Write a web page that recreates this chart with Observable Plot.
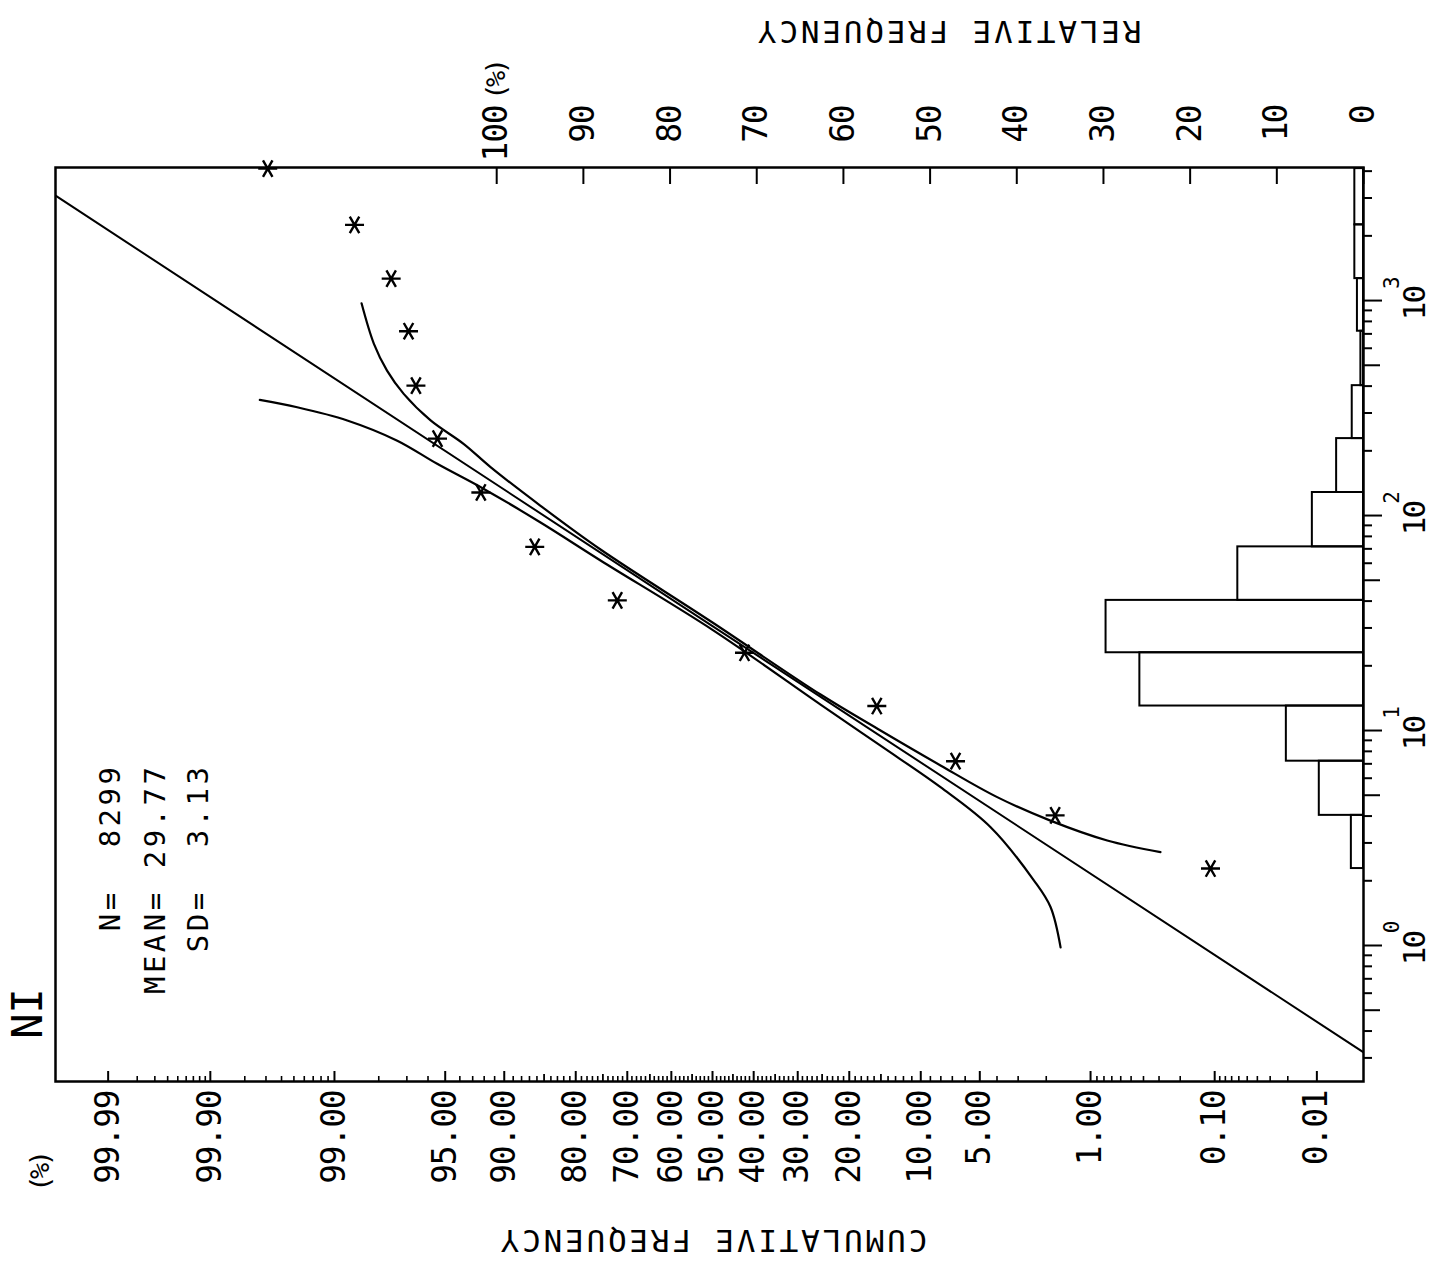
<!DOCTYPE html>
<html><head><meta charset="utf-8">
<script src="https://cdn.jsdelivr.net/npm/d3@7"></script>
<script src="https://cdn.jsdelivr.net/npm/@observablehq/plot@0.6"></script>
<style>
html,body{margin:0;padding:0;background:#fff;}
#chart{position:relative;width:1435px;height:1269px;overflow:hidden;background:#fff;}
#chart svg{position:absolute;left:0;top:0;}
</style></head>
<body><div id="chart"></div>
<script>
// ---------------- data ----------------
const title = "NI";
const statsLines = ["N=  8299", "MEAN= 29.77", "SD=  3.13"];
const cumAxisTitle = "CUMULATIVE FREQUENCY";
const relAxisTitle = "RELATIVE FREQUENCY";
const pctLabel = "(%)";

// class edges (upper edges are where the asterisks sit)
const binEdges = [2.28, 4.03, 7.2, 13.0, 23.0, 40.3, 71.5, 128, 228, 402, 720, 1265, 2250, 4110];
// relative frequency (%) of each class between consecutive edges
const relFreq = [1.4, 5.1, 8.9, 25.8, 29.7, 14.5, 5.9, 3.1, 1.3, 0.3, 0.7, 1.0, 1.0];
// cumulative frequency (%) at each upper edge
const cumFreq = [0.109, 1.75, 6.74, 15.6, 42.2, 72.1, 86.3, 92.3, 95.47, 96.6, 96.93, 97.6, 98.62, 99.69];

// fitted log-normal line
const fitCum = [0.001, 50, 99.999];
const fitValue = [0.237, 30.6, 3963];
// confidence curves
const upperCum = [98.46, 98.14, 97.74, 97.13, 95.86, 93.70, 91.40, 85.5, 75.46, 50, 25.3, 15.06, 8.03, 3.99, 1.88, 0.757, 0.292];
const upperValue = [971, 629, 472, 368, 277, 215, 168, 111, 69.5, 31.8, 14.7, 10.0, 6.88, 4.90, 3.81, 3.08, 2.72];
const lowerCum = [99.733, 99.47, 98.77, 97.38, 95.49, 92.03, 85.5, 75.46, 50, 25.3, 15.06, 8.03, 4.35, 2.40, 1.876, 1.61];
const lowerValue = [345, 319, 277, 223, 174, 133, 92.8, 61.8, 29.4, 13.2, 8.5, 5.45, 3.55, 2.01, 1.51, 0.98];

// cumulative-frequency axis
const cumTicks = [0.01, 0.1, 1, 5, 10, 20, 30, 40, 50, 60, 70, 80, 90, 95, 99, 99.9, 99.99];
const cumTickLabels = ["0.01", "0.10", "1.00", "5.00", "10.00", "20.00", "30.00", "40.00", "50.00", "60.00", "70.00", "80.00", "90.00", "95.00", "99.00", "99.90", "99.99"];
const cumMidTicks = [15, 25, 35, 45, 55, 65, 75, 85];
const cumMinorTicks = [
  0.02, 0.03, 0.04, 0.05, 0.06, 0.07, 0.08, 0.09,
  0.2, 0.3, 0.4, 0.5, 0.6, 0.7, 0.8, 0.9,
  2, 3, 4, 6, 7, 8, 9, 11, 12, 13, 14, 16, 17, 18, 19,
  21, 22, 23, 24, 26, 27, 28, 29, 31, 32, 33, 34, 36, 37, 38, 39,
  41, 42, 43, 44, 46, 47, 48, 49, 51, 52, 53, 54, 56, 57, 58, 59,
  61, 62, 63, 64, 66, 67, 68, 69, 71, 72, 73, 74, 76, 77, 78, 79,
  81, 82, 83, 84, 86, 87, 88, 89, 91, 92, 93, 94, 96, 97, 98,
  99.1, 99.2, 99.3, 99.4, 99.5, 99.6, 99.7, 99.8,
  99.91, 99.92, 99.93, 99.94, 99.95, 99.96, 99.97, 99.98
];

// relative-frequency axis
const relTicks = [0, 10, 20, 30, 40, 50, 60, 70, 80, 90, 100];
const relTickLabels = ["0", "10", "20", "30", "40", "50", "60", "70", "80", "90", "100"];

// log value axis
const logMajor = [1, 10, 100, 1000];
const logBase = ["10", "10", "10", "10"];
const logExp = ["0", "1", "2", "3"];
const logMid = [0.5, 5, 50, 500];
const logMinor = [0.3, 0.4, 0.6, 0.7, 0.8, 0.9, 2, 3, 4, 6, 7, 8, 9, 20, 30, 40, 60, 70, 80, 90,
  200, 300, 400, 600, 700, 800, 900, 2000, 3000, 4000];

// ---------------- layout ----------------
const W = 1435, H = 1269;
const mL = 55, mR = 72, mT = 167, mB = 188;
const FW = W - mL - mR, FH = H - mT - mB;
const yDomain = [0.233, 4159];
const zDomain = [4.043, -4.006];
const relDomain = [150.9, 0];
const FONT = "DejaVu Sans Mono";
const T = {fontFamily: FONT, fill: "black", lineAnchor: "middle"};

// inverse normal CDF (probability-paper scale)
function probit(p) {
  const a = [-3.969683028665376e+01, 2.209460984245205e+02, -2.759285104469687e+02, 1.383577518672690e+02, -3.066479806614716e+01, 2.506628277459239e+00];
  const b = [-5.447609879822406e+01, 1.615858368580409e+02, -1.556989798598866e+02, 6.680131188771972e+01, -1.328068155288572e+01];
  const c = [-7.784894002430293e-03, -3.223964580411365e-01, -2.400758277161838e+00, -2.549732539343734e+00, 4.374664141464968e+00, 2.938163982698783e+00];
  const d = [7.784695709041462e-03, 3.224671290700398e-01, 2.445134137142996e+00, 3.754408661907416e+00];
  const pl = 0.02425, ph = 1 - pl;
  let q, r;
  if (p < pl) {
    q = Math.sqrt(-2 * Math.log(p));
    return (((((c[0]*q+c[1])*q+c[2])*q+c[3])*q+c[4])*q+c[5]) / ((((d[0]*q+d[1])*q+d[2])*q+d[3])*q+1);
  }
  if (p <= ph) {
    q = p - 0.5; r = q * q;
    return (((((a[0]*r+a[1])*r+a[2])*r+a[3])*r+a[4])*r+a[5])*q / (((((b[0]*r+b[1])*r+b[2])*r+b[3])*r+b[4])*r+1);
  }
  q = Math.sqrt(-2 * Math.log(1 - p));
  return -(((((c[0]*q+c[1])*q+c[2])*q+c[3])*q+c[4])*q+c[5]) / ((((d[0]*q+d[1])*q+d[2])*q+d[3])*q+1);
}

const stars = cumFreq.map((c, i) => ({c, v: binEdges[i]}));
const fitLine = fitCum.map((c, i) => ({c, v: fitValue[i]}));
const upper = upperCum.map((c, i) => ({c, v: upperValue[i]}));
const lower = lowerCum.map((c, i) => ({c, v: lowerValue[i]}));
const bins = relFreq.map((f, i) => ({f, lo: binEdges[i], hi: binEdges[i + 1]}));

const statDx = [55, 100, 143];

// ---------------- main probability plot ----------------
const main = Plot.plot({
  width: W, height: H,
  marginLeft: mL, marginRight: mR, marginTop: mT, marginBottom: mB,
  style: {background: "transparent", fontFamily: FONT, color: "black"},
  x: {type: "linear", transform: (p) => probit(p / 100), domain: zDomain, axis: null},
  y: {type: "log", domain: yDomain, axis: null},
  marks: [
    // bottom (cumulative) ticks, inward
    Plot.ruleX(cumMinorTicks, {x: d => d, insetTop: FH - 5, stroke: "black", strokeWidth: 1.6}),
    Plot.ruleX(cumMidTicks, {x: d => d, insetTop: FH - 7, stroke: "black", strokeWidth: 1.8}),
    Plot.ruleX(cumTicks, {x: d => d, insetTop: FH - 10, stroke: "black", strokeWidth: 2}),
    Plot.text(cumTicks, {...T, x: d => d, text: (d, i) => cumTickLabels[i], frameAnchor: "bottom", dy: 9,
      rotate: -90, textAnchor: "end", fontSize: 33, className: "tick-label"}),
    Plot.text([pctLabel], {...T, frameAnchor: "bottom-left", dx: -15, dy: 72, rotate: -90, textAnchor: "end",
      fontSize: 27}),
    Plot.text([cumAxisTitle], {...T, x: 50, frameAnchor: "bottom", dy: 158, rotate: 180, textAnchor: "middle",
      fontSize: 31}),
    // right (log) ticks, outward
    Plot.ruleY(logMinor, {y: d => d, insetLeft: FW, insetRight: -9, stroke: "black", strokeWidth: 2}),
    Plot.ruleY(logMid, {y: d => d, insetLeft: FW, insetRight: -17, stroke: "black", strokeWidth: 2}),
    Plot.ruleY(logMajor, {y: d => d, insetLeft: FW, insetRight: -19, stroke: "black", strokeWidth: 2}),
    Plot.text(logMajor, {...T, y: d => d, text: (d, i) => logBase[i], frameAnchor: "right", dx: 52, dy: 3,
      rotate: -90, textAnchor: "middle", fontSize: 31}),
    Plot.text(logMajor, {...T, y: d => d, text: (d, i) => logExp[i], frameAnchor: "right", dx: 29, dy: -18,
      rotate: -90, textAnchor: "middle", fontSize: 21}),
    // fitted line and confidence curves
    Plot.line(fitLine, {x: "c", y: "v", stroke: "black", strokeWidth: 2, clip: true}),
    Plot.line(upper, {x: "c", y: "v", stroke: "black", strokeWidth: 2.2, curve: "catmull-rom", clip: true}),
    Plot.line(lower, {x: "c", y: "v", stroke: "black", strokeWidth: 2.2, curve: "catmull-rom", clip: true}),
    // observed cumulative frequencies
    Plot.dot(stars, {x: "c", y: "v", symbol: "asterisk", r: 9, stroke: "black", strokeWidth: 2.4, rotate: 90}),
    // annotations
    Plot.text([title], {...T, frameAnchor: "bottom-left", dx: -27, dy: -68, rotate: -90, textAnchor: "middle",
      fontSize: 42}),
    ...statsLines.map((s, i) => Plot.text([s], {...T, frameAnchor: "top-left", dx: statDx[i], dy: 596,
      rotate: -90, textAnchor: "end", fontSize: 29})),
    Plot.frame({stroke: "black", strokeWidth: 2.5})
  ]
});

// ---------------- histogram overlay (relative frequency) ----------------
const hist = Plot.plot({
  width: W, height: H,
  marginLeft: mL, marginRight: mR, marginTop: mT, marginBottom: mB,
  style: {background: "transparent", fontFamily: FONT, color: "black"},
  x: {type: "linear", domain: relDomain, axis: null},
  y: {type: "log", domain: yDomain, axis: null},
  marks: [
    Plot.rect(bins, {x1: 0, x2: "f", y1: "lo", y2: "hi", fill: "none", stroke: "black", strokeWidth: 2}),
    Plot.ruleX(relTicks, {x: d => d, insetBottom: FH - 17, stroke: "black", strokeWidth: 2}),
    Plot.text(relTicks, {...T, x: d => d, text: (d, i) => relTickLabels[i], frameAnchor: "top", dy: -62,
      rotate: -90, textAnchor: "end", fontSize: 33}),
    Plot.text([pctLabel], {...T, x: 100, frameAnchor: "top", dy: -106, rotate: -90, textAnchor: "end",
      fontSize: 27}),
    Plot.text([relAxisTitle], {...T, x: 47.9, frameAnchor: "top", dy: -137, rotate: 180, textAnchor: "middle",
      fontSize: 31})
  ]
});

const chart = document.getElementById("chart");
chart.appendChild(main);
chart.appendChild(hist);

// letter spacing for the plotter-style texts
const spaced = new Map([[cumAxisTitle, "2.8px"], [relAxisTitle, "2.8px"], [pctLabel, "-3.5px"]]);
statsLines.forEach(s => spaced.set(s, "3.5px"));
cumTickLabels.forEach(s => spaced.set(s, "-1.2px"));
relTickLabels.forEach(s => spaced.set(s, "-1.2px"));
logBase.forEach(s => spaced.set(s, "-2px"));
d3.selectAll("#chart svg text").each(function () {
  const t = this.textContent;
  if (spaced.has(t)) this.style.letterSpacing = spaced.get(t);
});
</script>
</body></html>
